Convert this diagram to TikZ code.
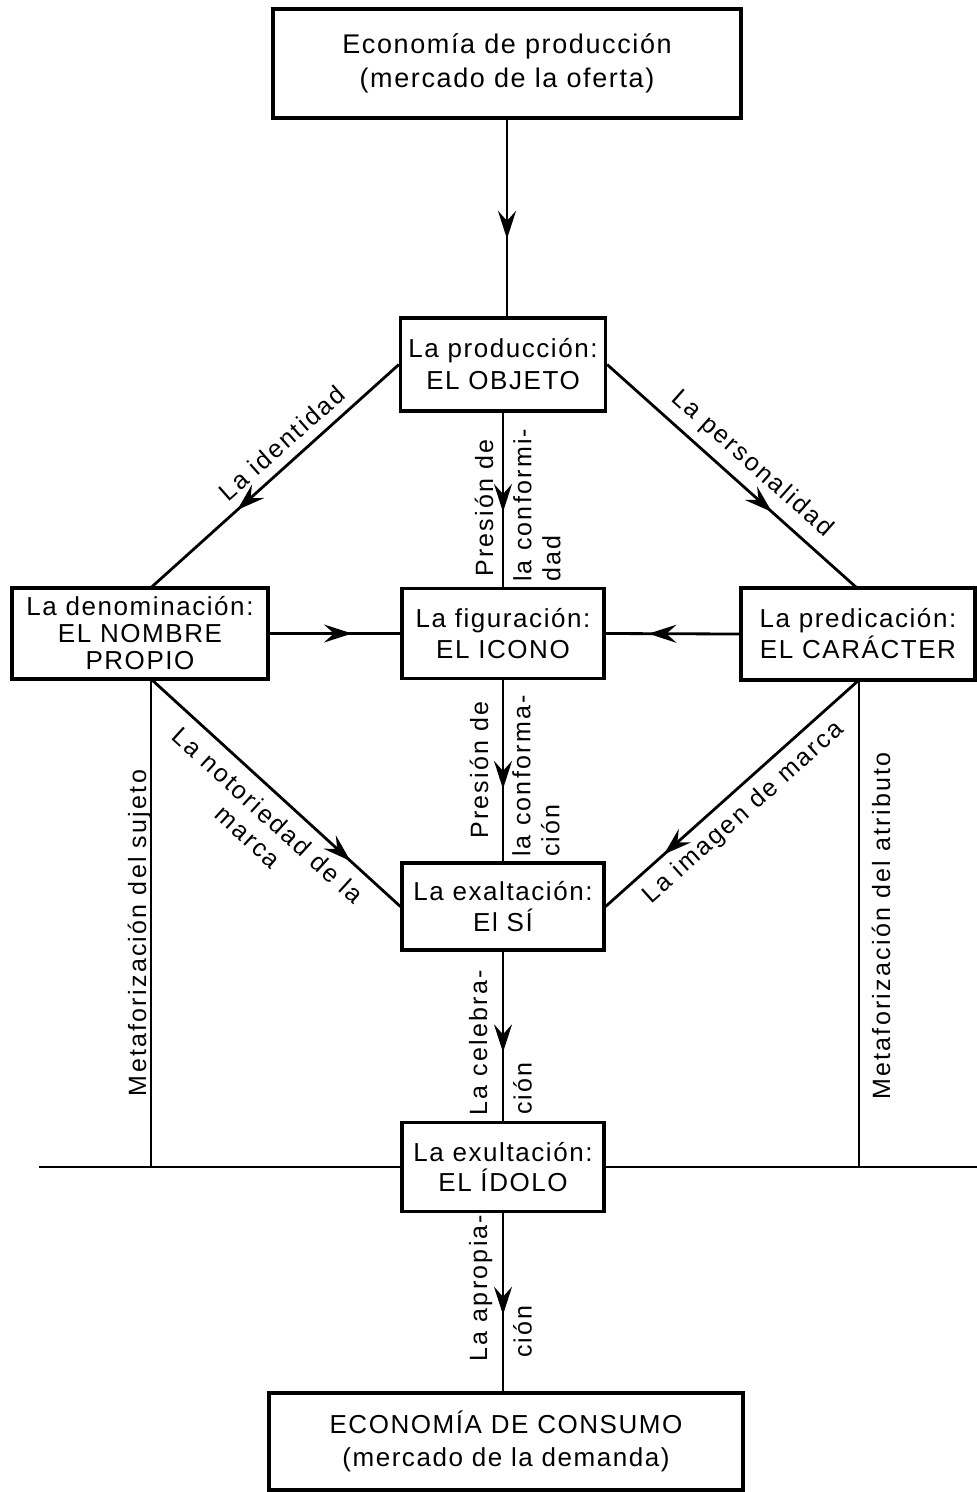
\documentclass[tikz,border=0pt]{standalone}
\usepackage{fontspec}
\setmainfont{Liberation Sans}
\newfontfamily\bfnt[LetterSpace=6]{Liberation Sans}
\newfontfamily\lfnt[LetterSpace=9]{Liberation Sans}
\usetikzlibrary{arrows.meta,decorations.markings,calc}
\begin{document}
\begin{tikzpicture}[x=1pt,y=-1pt,
  box/.style={draw, line width=3.2pt, inner sep=0pt, align=center, font=\bfnt\fontsize{26}{31}\selectfont},
  lab/.style={inner sep=0pt, font=\lfnt\fontsize{25}{29}\selectfont},
  conn/.style={line width=2.8pt},
  mid/.style={conn, postaction={decorate}, decoration={markings, mark=at position #1 with {\arrow{Stealth[length=28pt,width=18pt,inset=10pt]}}}}
]
\fill[white] (0,0) rectangle (977,1492);
\useasboundingbox (0,0) rectangle (977,1492);

% boxes
\node[box, minimum width=468pt, minimum height=109pt, font=\bfnt\fontsize{27}{34}\selectfont] (top) at (507,63.5) {Economía de producción\\(mercado de la oferta)};
\node[box, minimum width=205pt, minimum height=93pt, font=\bfnt\fontsize{26}{32}\selectfont] (obj) at (503,364.5) {La producción:\\EL OBJETO};
\node[box, minimum width=256pt, minimum height=91pt, font=\bfnt\fontsize{26}{27}\selectfont] (den) at (140,633.5) {La denominación:\\EL NOMBRE\\PROPIO};
\node[box, minimum width=202pt, minimum height=90pt] (fig) at (503,633.5) {La figuración:\\EL ICONO};
\node[box, minimum width=234pt, minimum height=92pt] (pre) at (858,634) {La predicación:\\EL CARÁCTER};
\node[box, minimum width=202pt, minimum height=87pt] (exa) at (503,906.5) {La exaltación:\\El SÍ};
\node[box, minimum width=202pt, minimum height=89pt, font=\bfnt\fontsize{26}{30}\selectfont] (exu) at (503,1167) {La exultación:\\EL ÍDOLO};
\node[box, minimum width=474pt, minimum height=97pt, font=\bfnt\fontsize{26}{33}\selectfont] (bot) at (506,1441.5) {ECONOMÍA DE CONSUMO\\(mercado de la demanda)};

% free ends
\coordinate (dT) at (150,588.5);
\coordinate (dB) at (151,679);
\coordinate (pT) at (857,588);
\coordinate (pB) at (859,680);
\coordinate (hl) at (39,1167);
\coordinate (hr) at (977,1167);

% connectors
\draw[mid=0.606] (top.south) -- (top.south |- obj.north);
\draw[mid=0.57] (obj.south) -- (fig.north);
\draw[mid=0.65] (obj.west) -- (dT);
\draw[mid=0.66] (obj.east) -- (pT);
\draw[mid=0.63] (den.east) -- (fig.west);
\draw[mid=0.68] (pre.west) -- (fig.east);
\draw[mid=0.60] (fig.south) -- (exa.north);
\draw[mid=0.80] (dB) -- (exa.west);
\draw[mid=0.77] (pB) -- (exa.east);
\draw[mid=0.595] (exa.south) -- (exu.north);
\draw[mid=0.57] (exu.south) -- (exu.south |- bot.north);
\draw[conn] (hl) -- (exu.west);
\draw[conn] (exu.east) -- (hr);
\draw[conn] (dB) -- (dB |- hl);
\draw[conn] (pB) -- (pB |- hl);

% labels
\node[lab, rotate=41.5] (lid) at (282,443) {La identidad};
\node[lab, rotate=-41.6] (lpe) at (752,464) {La personalidad};
\node[lab, rotate=-42.3, align=center] (lno) at (258,826) {La notoriedad de la\\marca};
\node[lab, rotate=41.8] (lim) at (744,813) {La imagen de marca};
\node[lab, rotate=90, anchor=base] (lms) at (146,933) {Metaforización del sujeto};
\node[lab, rotate=90, anchor=base] (lma) at (890,926) {Metaforización del atributo};

\node[lab, rotate=90, anchor=base] (p1) at (493,508) {Presión de};
\node[lab, rotate=90, anchor=north west, align=left] (c1) at (513,582) {la conformi-\\dad};
\node[lab, rotate=90, anchor=base] (p2) at (488,770) {Presión de};
\node[lab, rotate=90, anchor=north west, align=left] (c2) at (512,857) {la conforma-\\ción};
\node[lab, rotate=90, anchor=base] (ce1) at (487,1043) {La celebra-};
\node[lab, rotate=90, anchor=north west, align=left] (ce2) at (513,1115) {ción};
\node[lab, rotate=90, anchor=base] (ap1) at (487,1288) {La apropia-};
\node[lab, rotate=90, anchor=north west, align=left] (ap2) at (513,1358) {ción};
\end{tikzpicture}
\end{document}
